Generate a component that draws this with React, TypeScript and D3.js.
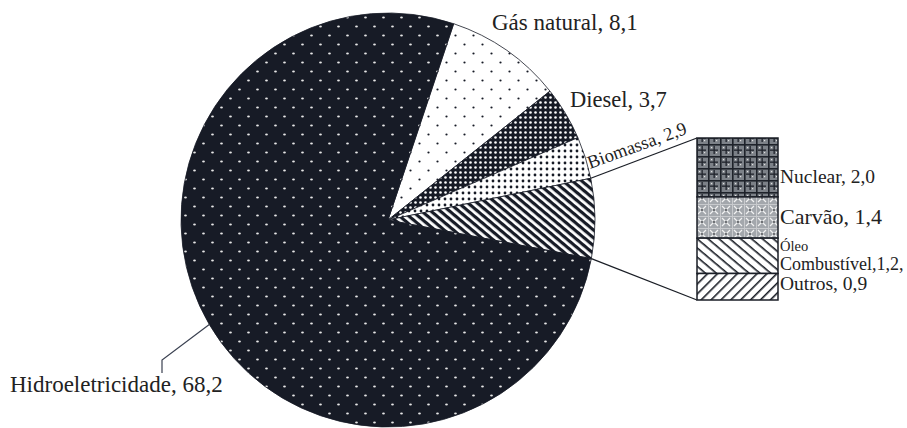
import React from "react";
import * as d3 from "d3";

const pieNames = ["Gás natural", "Diesel", "Biomassa", "Outros_grupo", "Hidroeletricidade"];
const pieValues = [8.1, 3.7, 2.9, 5.5, 68.2];
const pieFills = ["url(#pGas)", "url(#pDiesel)", "url(#pBio)", "url(#pStripe)", "url(#pHidro)"];

const barNames = ["Nuclear", "Carvão", "Óleo Combustível", "Outros"];
const barValues = [2.0, 1.4, 1.2, 0.9];
const barFills = ["url(#pNuclear)", "url(#pCarvao)", "url(#pOleo)", "url(#pOutros)"];

const W = 907, H = 428;
const cx = 388, cy = 220, R = 207;
const FONT = "'Liberation Serif', 'DejaVu Serif', serif";
const TXT = "#222";

export default function App() {
  const start = (18.5 * Math.PI) / 180;
  const pie = d3.pie<number>().sort(null).value((d) => d).startAngle(start).endAngle(start + 2 * Math.PI);
  const arcs = pie(pieValues);
  const arcGen = d3.arc<d3.PieArcDatum<number>>().innerRadius(0).outerRadius(R);
  const pt = (a: number, r: number) => [cx + r * Math.sin(a), cy - r * Math.cos(a)];

  const group = arcs[3];
  const pTop = pt(group.startAngle, R);
  const pBot = pt(group.endAngle, R);

  const barX0 = 697, barX1 = 778;
  const total = d3.sum(barValues);
  const y = d3.scaleLinear().domain([0, total]).range([138, 300]);
  let acc = 0;
  const segs = barValues.map((v, i) => {
    const s = { name: barNames[i], y0: y(acc), y1: y(acc + v), fill: barFills[i] };
    acc += v;
    return s;
  });

  const hp = pt((239.7 * Math.PI) / 180, R);

  return (
    <svg width={W} height={H} style={{ position: "absolute", left: 0, top: 0, background: "#fff" }}>
      <defs>
        <pattern id="pHidro" patternUnits="userSpaceOnUse" width={18} height={18}>
          <rect width={18} height={18} fill="#171b26" />
          <ellipse cx={4.5} cy={4.5} rx={1.4} ry={1} fill="#e6e6e6" />
          <ellipse cx={13.5} cy={13.5} rx={1.4} ry={1} fill="#e6e6e6" />
        </pattern>
        <pattern id="pGas" patternUnits="userSpaceOnUse" width={18} height={18}>
          <rect width={18} height={18} fill="#fff" />
          <circle cx={4.5} cy={4.5} r={1.1} fill="#171b26" />
          <circle cx={13.5} cy={13.5} r={1.1} fill="#171b26" />
        </pattern>
        <pattern id="pDiesel" patternUnits="userSpaceOnUse" width={5} height={5}>
          <rect width={5} height={5} fill="#171b26" />
          <circle cx={2.5} cy={2.5} r={1.3} fill="#fff" />
        </pattern>
        <pattern id="pBio" patternUnits="userSpaceOnUse" width={6} height={6}>
          <rect width={6} height={6} fill="#fff" />
          <circle cx={3} cy={3} r={1.4} fill="#171b26" />
        </pattern>
        <pattern id="pStripe" patternUnits="userSpaceOnUse" width={6} height={6} patternTransform="rotate(40)">
          <rect width={6} height={6} fill="#fff" />
          <rect width={6} height={3.2} fill="#171b26" />
        </pattern>
        <pattern id="pNuclear" patternUnits="userSpaceOnUse" width={12} height={12}>
          <rect width={12} height={12} fill="#7c8188" />
          <rect x={0} y={0} width={12} height={1.6} fill="#1e222a" />
          <rect x={0} y={0} width={1.6} height={12} fill="#1e222a" />
          <rect x={5.5} y={2} width={1.3} height={8} fill="#1e222a" />
          <rect x={2} y={5.5} width={8} height={1.3} fill="#1e222a" />
          <rect x={3} y={3} width={1.2} height={1.2} fill="#e0e0e0" />
          <rect x={8} y={8} width={1.2} height={1.2} fill="#e0e0e0" />
        </pattern>
        <pattern id="pCarvao" patternUnits="userSpaceOnUse" width={12} height={12}>
          <rect width={12} height={12} fill="#a3a7ac" />
          <path d="M2,2 L10,10 M10,2 L2,10" stroke="#f2f2f2" strokeWidth={1.2} />
          <rect x={0} y={0} width={12} height={1} fill="#c8cacd" />
          <rect x={0} y={0} width={1} height={12} fill="#c8cacd" />
          <circle cx={6} cy={6} r={0.9} fill="#30343a" />
        </pattern>
        <pattern id="pOleo" patternUnits="userSpaceOnUse" width={7} height={7} patternTransform="rotate(40)">
          <rect width={7} height={7} fill="#fff" />
          <rect width={7} height={1.6} fill="#1a1e26" />
        </pattern>
        <pattern id="pOutros" patternUnits="userSpaceOnUse" width={7} height={7} patternTransform="rotate(-45)">
          <rect width={7} height={7} fill="#fff" />
          <rect width={7} height={1.6} fill="#1a1e26" />
        </pattern>
      </defs>

      <g transform={`translate(${cx},${cy})`}>
        {arcs.map((a, i) => (
          <path key={pieNames[i]} d={arcGen(a) || ""} fill={pieFills[i]} stroke="#171b26" strokeWidth={0.8} />
        ))}
      </g>

      {/* connector lines */}
      <line x1={pTop[0]} y1={pTop[1]} x2={barX0} y2={segs[0].y0} stroke="#1a1e26" strokeWidth={1.3} />
      <line x1={pBot[0]} y1={pBot[1]} x2={barX0} y2={segs[segs.length - 1].y1} stroke="#1a1e26" strokeWidth={1.3} />

      {/* bar */}
      {segs.map((s) => (
        <rect key={s.name} x={barX0} y={s.y0} width={barX1 - barX0} height={s.y1 - s.y0} fill={s.fill} stroke="#1a1e26" strokeWidth={1.5} />
      ))}

      {/* hidro leader */}
      <polyline points={`${hp[0]},${hp[1]} 162,360 162,373`} fill="none" stroke="#3a4050" strokeWidth={1.2} />

      <g fontFamily={FONT} fill={TXT}>
        <text x={492} y={30} fontSize={23}>Gás natural, 8,1</text>
        <text x={570} y={107} fontSize={22.5}>Diesel, 3,7</text>
        <text x={590} y={169} fontSize={18.5} transform="rotate(-20 590 169)">Biomassa, 2,9</text>
        <text x={780} y={183} fontSize={19.5}>Nuclear, 2,0</text>
        <text x={780} y={224} fontSize={22}>Carvão, 1,4</text>
        <text x={780} y={251} fontSize={14.5}>Óleo</text>
        <text x={780} y={270} fontSize={18}>Combustível,1,2,</text>
        <text x={780} y={290} fontSize={19.5}>Outros, 0,9</text>
        <text x={10} y={392} fontSize={23}>Hidroeletricidade, 68,2</text>
      </g>
    </svg>
  );
}
